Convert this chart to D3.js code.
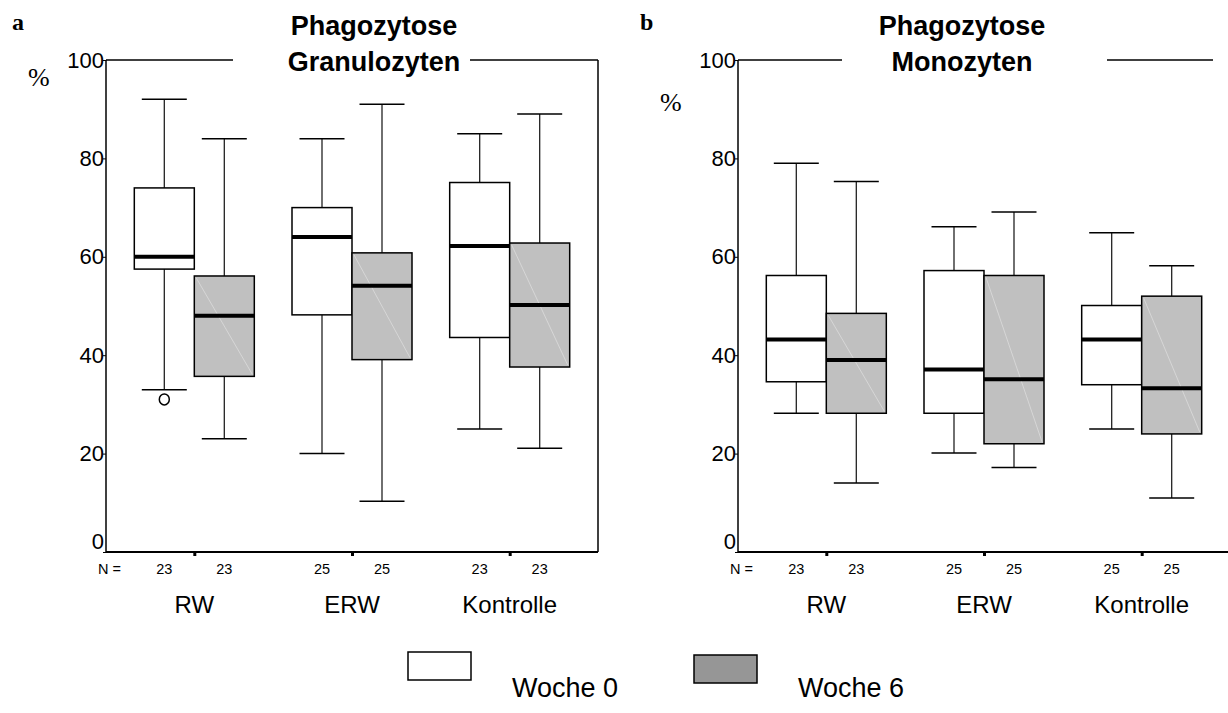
<!DOCTYPE html>
<html>
<head>
<meta charset="utf-8">
<script src="https://cdn.jsdelivr.net/npm/d3@7"></script>
<style>
  body { margin: 0; background: #fff; }
  svg { display: block; font-family: "Liberation Sans", Arial, sans-serif; }
</style>
</head>
<body>
<svg id="chart" width="1228" height="713"></svg>
<script>
// gruppen en wochen
const groups = ["RW", "ERW", "Kontrolle"];
const weeks = ["Woche 0", "Woche 6"];
const yTicks = [0, 20, 40, 60, 80, 100];

// boxplot waarden: [min, q1, median, q3, max] per gruppe
const granuloWoche0 = [[33, 57.5, 60, 74, 92], [20, 48.2, 64, 70, 84], [25, 43.6, 62.2, 75.1, 85]];
const granuloWoche6 = [[23, 35.7, 48, 56.1, 84], [10.3, 39.1, 54.1, 60.8, 91], [21.1, 37.6, 50.2, 62.8, 89]];
const granuloN = [23, 23, 25, 25, 23, 23];
const granuloOutliers = [{ group: "RW", week: "Woche 0", value: 31 }];

const monoWoche0 = [[28.2, 34.6, 43.2, 56.2, 79], [20.1, 28.2, 37.1, 57.2, 66.1], [25, 34, 43.2, 50.1, 64.9]];
const monoWoche6 = [[14, 28.2, 39, 48.5, 75.3], [17.2, 22, 35.1, 56.2, 69.1], [11, 24, 33.3, 52, 58.2]];
const monoN = [23, 23, 25, 25, 25, 25];
const monoOutliers = [];

const svg = d3.select("#chart");

// data omzetten naar rijen
function makeRows(w0, w6, ns) {
    const rows = [];
    groups.forEach((g, i) => {
        [w0[i], w6[i]].forEach((v, j) => {
            rows.push({ group: g, week: weeks[j], min: v[0], q1: v[1], median: v[2], q3: v[3], max: v[4], n: ns[i * 2 + j] });
        });
    });
    return rows;
}

function drawPanel(opt) {
    const top = 60, bottom = 552;
    const x = d3.scalePoint().domain(groups).range([opt.left, opt.right]).padding(0.56);
    const xi = d3.scaleBand().domain(weeks).range([-60, 60]);
    const y = d3.scaleLinear().domain([0, 100]).range([bottom, top]);
    const rows = makeRows(opt.w0, opt.w6, opt.n);
    const g = svg.append("g");

    // kader
    g.append("line").attr("x1", opt.right).attr("x2", opt.right).attr("y1", top).attr("y2", bottom)
        .attr("stroke", "#000").attr("stroke-width", 1.5);
    opt.topLine.forEach(seg => {
        g.append("line").attr("x1", seg[0]).attr("x2", seg[1]).attr("y1", top).attr("y2", top)
            .attr("stroke", "#000").attr("stroke-width", 1.5);
    });

    // y-as
    const yAxis = g.append("g").attr("transform", "translate(" + opt.left + ",0)")
        .call(d3.axisLeft(y).tickValues(yTicks).tickSize(3).tickPadding(-1));
    yAxis.select(".domain").attr("stroke-width", 1.5).attr("d", "M0," + top + "V" + bottom);
    yAxis.selectAll("text").attr("font-size", 22).attr("font-family", "Liberation Sans, Arial, sans-serif")
        .attr("fill", "#000")
        .attr("dy", d => d === 0 ? "-0.15em" : "0.32em");

    // x-as
    const xAxis = g.append("g").attr("transform", "translate(0," + bottom + ")")
        .call(d3.axisBottom(x).tickSize(4).tickFormat(""));
    xAxis.select(".domain").attr("stroke-width", 2).attr("d", "M" + opt.left + ",0H" + opt.right);
    xAxis.selectAll(".tick line").attr("stroke-width", 3);

    // N labels
    g.append("text").attr("x", opt.left - 8).attr("y", bottom + 22).attr("font-size", 14.5).text("N =");
    g.selectAll(".nlab").data(rows).enter().append("text")
        .attr("x", d => x(d.group) + xi(d.week) + xi.bandwidth() / 2)
        .attr("y", bottom + 22).attr("text-anchor", "middle").attr("font-size", 14.5)
        .text(d => d.n);

    // categorie labels
    g.selectAll(".cat").data(groups).enter().append("text")
        .attr("x", d => x(d))
        .attr("y", bottom + 61).attr("text-anchor", "middle").attr("font-size", 24)
        .text(d => d);

    // boxplots
    const box = g.selectAll(".box").data(rows).enter().append("g")
        .attr("transform", d => "translate(" + (x(d.group) + xi(d.week)) + ",0)");
    const bw = xi.bandwidth(), cap = 45;
    box.append("line").attr("x1", bw / 2).attr("x2", bw / 2)
        .attr("y1", d => y(d.max)).attr("y2", d => y(d.q3)).attr("stroke", "#222").attr("stroke-width", 1.3);
    box.append("line").attr("x1", bw / 2).attr("x2", bw / 2)
        .attr("y1", d => y(d.q1)).attr("y2", d => y(d.min)).attr("stroke", "#222").attr("stroke-width", 1.3);
    box.append("line").attr("x1", bw / 2 - cap / 2).attr("x2", bw / 2 + cap / 2)
        .attr("y1", d => y(d.max)).attr("y2", d => y(d.max)).attr("stroke", "#000").attr("stroke-width", 1.5);
    box.append("line").attr("x1", bw / 2 - cap / 2).attr("x2", bw / 2 + cap / 2)
        .attr("y1", d => y(d.min)).attr("y2", d => y(d.min)).attr("stroke", "#000").attr("stroke-width", 1.5);
    box.append("rect").attr("x", 0).attr("width", bw)
        .attr("y", d => y(d.q3)).attr("height", d => y(d.q1) - y(d.q3))
        .attr("fill", d => d.week === weeks[0] ? "#fff" : "#c0c0c0")
        .attr("stroke", "#000").attr("stroke-width", 1.5);
    // vage diagonaal in de grijze boxen (zoals in het origineel)
    box.filter(d => d.week === weeks[1]).append("line")
        .attr("x1", 2).attr("x2", bw - 2)
        .attr("y1", d => y(d.q3) + 2).attr("y2", d => y(d.q1) - 2)
        .attr("stroke", "#dcdcdc").attr("stroke-width", 0.8);
    box.append("line").attr("x1", 0).attr("x2", bw)
        .attr("y1", d => y(d.median)).attr("y2", d => y(d.median))
        .attr("stroke", "#000").attr("stroke-width", 4);

    // uitschieters
    g.selectAll(".out").data(opt.outliers).enter().append("ellipse")
        .attr("cx", d => x(d.group) + xi(d.week) + bw / 2)
        .attr("cy", d => y(d.value)).attr("rx", 5).attr("ry", 5.5)
        .attr("fill", "none").attr("stroke", "#000").attr("stroke-width", 1.5);

    // titel
    opt.title.forEach((t, i) => {
        g.append("text").attr("x", opt.titleX).attr("y", 35 + i * 36)
            .attr("text-anchor", "middle").attr("font-size", 27).attr("font-weight", "bold").text(t);
    });

    // paneel letter en procent teken
    g.append("text").attr("x", opt.letterX).attr("y", 30)
        .attr("font-family", "Liberation Serif, Times New Roman, serif").attr("font-weight", "bold")
        .attr("font-size", 24).text(opt.letter);
    g.append("text").attr("x", opt.left - 78).attr("y", opt.pctY)
        .attr("font-family", "Liberation Serif, Times New Roman, serif")
        .attr("font-size", 26).text("%");
}

drawPanel({
    left: 106, right: 598, w0: granuloWoche0, w6: granuloWoche6, n: granuloN,
    outliers: granuloOutliers, title: ["Phagozytose", "Granulozyten"], titleX: 374,
    topLine: [[106, 233], [470, 598]], letter: "a", letterX: 12, pctY: 86
});
drawPanel({
    left: 738, right: 1230, w0: monoWoche0, w6: monoWoche6, n: monoN,
    outliers: monoOutliers, title: ["Phagozytose", "Monozyten"], titleX: 962,
    topLine: [[738, 842], [1107, 1213]], letter: "b", letterX: 640, pctY: 111
});

// legenda
const legend = svg.append("g");
const legX = d3.scalePoint().domain(weeks).range([408, 694]);
legend.selectAll("rect").data(weeks).enter().append("rect")
    .attr("x", d => legX(d)).attr("y", (d, i) => 652 + i * 3).attr("width", 63).attr("height", 28)
    .attr("fill", (d, i) => i === 0 ? "#fff" : "#969696").attr("stroke", "#000").attr("stroke-width", 1.5);
legend.selectAll("text").data(weeks).enter().append("text")
    .attr("x", d => legX(d) + 104).attr("y", 697).attr("font-size", 27).text(d => d);
</script>
</body>
</html>
